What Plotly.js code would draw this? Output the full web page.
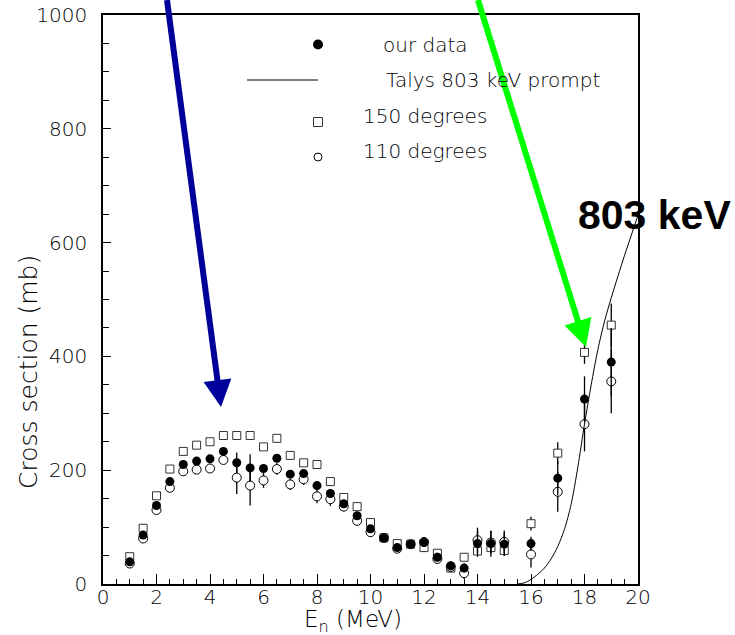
<!DOCTYPE html>
<html><head><meta charset="utf-8">
<script src="https://cdn.plot.ly/plotly-3.0.1.min.js"></script>
<style>html,body{margin:0;padding:0;background:#fff}</style>
</head><body><div id="chart" style="width:735px;height:635px"></div>
<script>
// Neutron energies (MeV)
const energies = [1,1.5,2,2.5,3,3.5,4,4.5,5,5.5,6,6.5,7,7.5,8,8.5,9,9.5,10,10.5,11,11.5,12,12.5,13,13.5,14,14.5,15,16,17,18,19];
// our data (mb)
const ourData = [39,86,138,180,210,216,220,233,213,204,203,221,193,194,173,159,141,120,97,81,64,70,73,47,32,28,71,71,70,71,186,325,390];
const ourErr  = [5,5,5,5,5,5,5,5,18,24,6,6,6,6,6,6,6,6,6,6,6,6,8,8,8,8,22,23,20,12,30,40,60];
// 150 degrees (mb)
const deg150 = [48,98,155,202,233,244,250,261,261,261,241,256,226,213,210,180,152,136,108,81,71,70,64,54,28,47,58,64,59,106,230,407,455];
const deg150Err = [4,4,4,4,4,4,4,4,4,4,4,4,4,4,4,4,4,4,4,4,4,4,4,4,4,4,10,10,10,12,19,20,38];
// 110 degrees (mb)
const deg110 = [36,80,130,169,198,201,203,218,187,173,182,202,175,184,154,149,136,111,91,81,62,70,74,44,30,19,77,73,74,52,162,281,356];
const deg110Err = [5,5,5,5,5,5,5,5,29,35,13,10,10,10,12,12,8,8,8,6,6,6,8,8,8,10,22,20,20,23,35,48,56];
// Talys 803 keV prompt calculation
const talysE  = [15.5,15.75,16,16.25,16.5,16.75,17,17.25,17.5,17.75,18,18.25,18.5,18.75,19,19.25,19.5,19.75,20];
const talysXS = [0,2,8,17,28,44,66,96,140,205,281,350,412,462,503,541,578,613,648];

const legendLabels = ['our data','Talys 803 keV prompt','150 degrees','110 degrees'];
const xTitle = 'E<sub>n</sub> (MeV)';
const yTitle = 'Cross section (mb)';

// page-pixel -> paper helpers (plot area 103..638 x 15..584)
const L=103, R=638, T=15, B=584;
const px = v => (v-L)/(R-L);
const py = v => (B-v)/(B-T);

const light = {family:'DejaVu Sans', size:20, color:'#000', weight:200};
const titleFont = {family:'DejaVu Sans', size:23, color:'#000', weight:200};

function err(arr){return {type:'data', array:arr, visible:true, thickness:1.3, width:0, color:'#000'};}

const traces = [
  {x:energies, y:deg150, type:'scatter', mode:'markers', name:legendLabels[2],
   marker:{symbol:'square', size:8, color:'#fff', line:{color:'#333', width:1}}, error_y:err(deg150Err), cliponaxis:false},
  {x:energies, y:deg110, type:'scatter', mode:'markers', name:legendLabels[3],
   marker:{symbol:'circle', size:9, color:'#fff', line:{color:'#000', width:1}}, error_y:err(deg110Err), cliponaxis:false},
  {x:energies, y:ourData, type:'scatter', mode:'markers', name:legendLabels[0],
   marker:{symbol:'circle', size:9, color:'#000'}, error_y:err(ourErr), cliponaxis:false},
  {x:talysE, y:talysXS, type:'scatter', mode:'lines', name:legendLabels[1],
   line:{color:'#000', width:1, shape:'spline', smoothing:0.8}}
];

const annotations = [
  {xref:'paper', yref:'paper', x:px(381), y:py(45), xanchor:'left', yanchor:'middle', text:legendLabels[0], showarrow:false, font:light},
  {xref:'paper', yref:'paper', x:px(384), y:py(80), xanchor:'left', yanchor:'middle', text:legendLabels[1], showarrow:false, font:light},
  {xref:'paper', yref:'paper', x:px(361), y:py(116), xanchor:'left', yanchor:'middle', text:legendLabels[2], showarrow:false, font:light},
  {xref:'paper', yref:'paper', x:px(361), y:py(151), xanchor:'left', yanchor:'middle', text:legendLabels[3], showarrow:false, font:light},
  {xref:'paper', yref:'paper', x:px(28), y:py(372), xanchor:'center', yanchor:'middle', textangle:-90,
   text:yTitle, showarrow:false, font:{family:'DejaVu Sans', size:25, color:'#000', weight:200}},
  {xref:'paper', yref:'paper', x:px(353), y:py(621), xanchor:'center', yanchor:'middle', borderpad:0,
   text:xTitle, showarrow:false, font:titleFont},
  {xref:'paper', yref:'paper', x:px(576), y:py(215), xanchor:'left', yanchor:'middle',
   text:'<b>803 keV</b>', showarrow:false, font:{family:'Liberation Sans', size:41, color:'#000'}}
];

// arrows drawn as shapes: shaft + triangular head (page-pixel geometry)
function arrow(tail, tip, color){
  const dx = tip[0]-tail[0], dy = tip[1]-tail[1];
  const len = Math.hypot(dx,dy), ux = dx/len, uy = dy/len;
  const hl = 27, hw = 14;
  const bx = tip[0]-hl*ux, by = tip[1]-hl*uy;
  const nx = uy, ny = -ux;
  const sx = bx+3*ux, sy = by+3*uy;
  return [
    {type:'line', xref:'paper', yref:'paper', x0:px(tail[0]), y0:py(tail[1]), x1:px(sx), y1:py(sy), line:{color:color, width:6}},
    {type:'path', xref:'paper', yref:'paper', fillcolor:color, line:{width:0},
     path:`M${px(tip[0])},${py(tip[1])} L${px(bx+hw*nx)},${py(by+hw*ny)} L${px(bx-hw*nx)},${py(by-hw*ny)} Z`}
  ];
}

const shapes = [
  {type:'circle', xref:'paper', yref:'paper', x0:px(313), x1:px(323), y0:py(49.5), y1:py(39.5), fillcolor:'#000', line:{width:0}},
  {type:'line', xref:'paper', yref:'paper', x0:px(247), x1:px(318), y0:py(80), y1:py(80), line:{color:'#000', width:1}},
  {type:'rect', xref:'paper', yref:'paper', x0:px(313.5), x1:px(322.5), y0:py(126.5), y1:py(117.5), fillcolor:'#fff', line:{color:'#333', width:1}},
  {type:'circle', xref:'paper', yref:'paper', x0:px(314), x1:px(322), y0:py(161), y1:py(153), fillcolor:'#fff', line:{color:'#000', width:1}},
  ...arrow([167,0],[221,407],'#00009a'),
  ...arrow([478,0],[586,347],'#00ff00')
];

const layout = {
  width:735, height:635,
  margin:{l:L, r:735-R, t:T, b:635-B},
  paper_bgcolor:'#fff', plot_bgcolor:'#fff',
  showlegend:false,
  xaxis:{range:[0,20], dtick:2, tick0:0, ticks:'inside', ticklen:10, tickwidth:1, tickcolor:'#000',
    minor:{dtick:0.5, ticks:'inside', ticklen:5, tickwidth:1, tickcolor:'#000'},
    showline:true, linecolor:'#000', linewidth:1.5, mirror:true, showgrid:false, zeroline:false,
    tickfont:light, ticklabelstandoff:-6},
  yaxis:{range:[0,1000], dtick:200, tick0:0, ticks:'inside', ticklen:8, tickwidth:1, tickcolor:'#000',
    minor:{dtick:50, ticks:'inside', ticklen:6, tickwidth:1, tickcolor:'#000'},
    showline:true, linecolor:'#000', linewidth:1.5, mirror:true, showgrid:false, zeroline:false,
    tickfont:light, ticklabelstandoff:10},
  annotations:annotations,
  shapes:shapes
};

Plotly.newPlot('chart', traces, layout, {displayModeBar:false, responsive:false});
</script></body></html>
